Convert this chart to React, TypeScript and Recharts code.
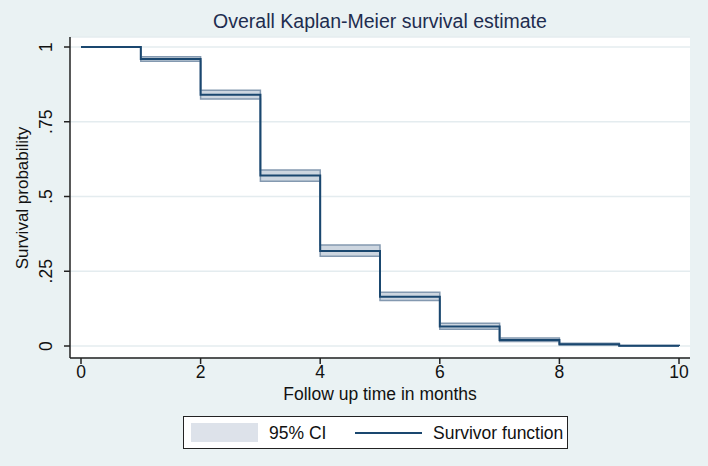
import React from 'react';
import { ComposedChart, Area, Line, XAxis, YAxis, CartesianGrid } from 'recharts';

const months = [0, 1, 2, 3, 4, 5, 6, 7, 8, 9, 10];
const survival = [1, 0.96, 0.84, 0.57, 0.318, 0.165, 0.065, 0.02, 0.006, 0.001, 0];
const ciLower = [1, 0.952, 0.826, 0.551, 0.3, 0.152, 0.056, 0.015, 0.003, 0, 0];
const ciUpper = [1, 0.967, 0.855, 0.589, 0.338, 0.18, 0.076, 0.027, 0.009, 0.002, 0];
const xTicks = [0, 2, 4, 6, 8, 10];
const yTicks = [0, 0.25, 0.5, 0.75, 1];
const yTickLabels = ['0', '.25', '.5', '.75', '1'];

const data = months.map((t, i) => ({ t, s: survival[i], ci: [ciLower[i], ciUpper[i]] }));

const FONT = '"Liberation Sans", Arial, sans-serif';
const NAVY = '#1a476f';

const XTick = (props: any) => {
  const { x, y, payload } = props;
  return (
    <text x={x} y={y + 12} textAnchor="middle" fontSize={17.5} fontFamily={FONT} fill="#111">
      {payload.value}
    </text>
  );
};

const YTick = (props: any) => {
  const { x, y, payload, index } = props;
  const bx = x - 10;
  return (
    <text x={bx} y={y} transform={`rotate(-90 ${bx} ${y})`} textAnchor="middle" fontSize={17.5} fontFamily={FONT} fill="#111">
      {yTickLabels[index] ?? payload.value}
    </text>
  );
};

export default function App() {
  return (
    <div style={{ position: 'absolute', left: 0, top: 0, width: 708, height: 466, background: '#eaf2f3', fontFamily: FONT }}>
      <ComposedChart width={708} height={466} data={data} margin={{ top: 37, right: 18, left: 0, bottom: 78 }}>
        <CartesianGrid vertical={false} stroke="#e4ecef" strokeWidth={1.5} fill="#ffffff" />
        <XAxis
          type="number"
          dataKey="t"
          domain={[0, 10]}
          ticks={xTicks}
          padding={{ left: 11, right: 11 }}
          height={30}
          tickSize={6}
          tickMargin={2}
          axisLine={{ stroke: '#222', strokeWidth: 1.5 }}
          tickLine={{ stroke: '#222', strokeWidth: 1.5 }}
          tick={<XTick />}
        />
        <YAxis
          type="number"
          domain={[0, 1]}
          ticks={yTicks}
          padding={{ top: 10, bottom: 12 }}
          width={70}
          tickSize={6}
          tickMargin={2}
          axisLine={{ stroke: '#222', strokeWidth: 1.5 }}
          tickLine={{ stroke: '#222', strokeWidth: 1.5 }}
          tick={<YTick />}
        />
        <Area
          dataKey="ci"
          type="stepAfter"
          fill="#cdd6e0"
          fillOpacity={1}
          stroke="#8499b0"
          strokeWidth={1.5}
          isAnimationActive={false}
        />
        <Line dataKey="s" type="stepAfter" stroke={NAVY} strokeWidth={2} dot={false} isAnimationActive={false} />
      </ComposedChart>

      <svg width={708} height={466} style={{ position: 'absolute', left: 0, top: 0, pointerEvents: 'none' }}>
        <text x={380} y={27.5} textAnchor="middle" fontSize={19.5} fontFamily={FONT} fill="#1e2d4f">
          Overall Kaplan-Meier survival estimate
        </text>
        <text x={380} y={399.5} textAnchor="middle" fontSize={17.5} fontFamily={FONT} fill="#111">
          Follow up time in months
        </text>
        <text x={28} y={198} transform="rotate(-90 28 198)" textAnchor="middle" fontSize={17} fontFamily={FONT} fill="#111">
          Survival probability
        </text>
        <rect x={183.5} y={416.5} width={384} height={32} fill="#fff" stroke="#222" strokeWidth={1} />
        <rect x={191} y={423} width={67} height={19} fill="#dde2ea" />
        <text x={269} y={438.5} fontSize={17.5} fontFamily={FONT} fill="#111">95% CI</text>
        <line x1={355} y1={433} x2={422} y2={433} stroke={NAVY} strokeWidth={2} />
        <text x={433} y={438.5} fontSize={17.5} fontFamily={FONT} fill="#111">Survivor function</text>
      </svg>
    </div>
  );
}
